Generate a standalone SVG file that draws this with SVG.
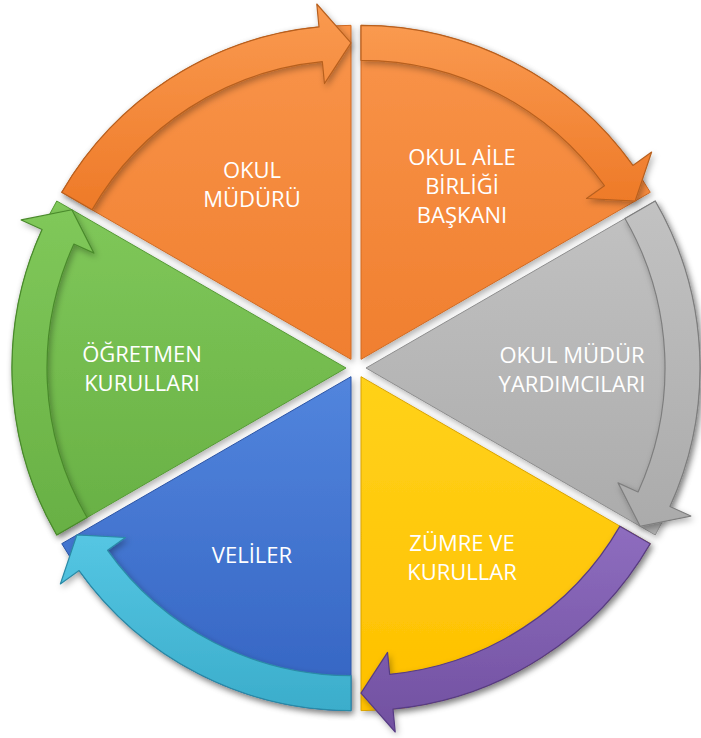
<svg xmlns="http://www.w3.org/2000/svg" width="701" height="738" viewBox="0 0 701 738">
<defs>
  <filter id="sh" x="-10%" y="-10%" width="120%" height="120%">
    <feDropShadow dx="2" dy="3" stdDeviation="3" flood-color="#000" flood-opacity="0.3"/>
  </filter>
  <linearGradient id="gOrange" x1="0" y1="0" x2="0" y2="1">
    <stop offset="0" stop-color="#F9944A"/>
    <stop offset="1" stop-color="#F07F2F"/>
  </linearGradient>
  <linearGradient id="gOrangeB" x1="0" y1="0" x2="0" y2="1">
    <stop offset="0" stop-color="#FA9A50"/>
    <stop offset="1" stop-color="#EE7A28"/>
  </linearGradient>
  <linearGradient id="gGray" x1="0" y1="0" x2="0" y2="1">
    <stop offset="0" stop-color="#C2C2C2"/>
    <stop offset="1" stop-color="#ABABAB"/>
  </linearGradient>
  <linearGradient id="gYellow" x1="0" y1="0" x2="0" y2="1">
    <stop offset="0" stop-color="#FFD21A"/>
    <stop offset="1" stop-color="#FFC000"/>
  </linearGradient>
  <linearGradient id="gPurple" x1="0" y1="0" x2="0" y2="1">
    <stop offset="0" stop-color="#8E6DBF"/>
    <stop offset="1" stop-color="#7150A0"/>
  </linearGradient>
  <linearGradient id="gBlue" x1="0" y1="0" x2="0" y2="1">
    <stop offset="0" stop-color="#5285DD"/>
    <stop offset="1" stop-color="#3464C2"/>
  </linearGradient>
  <linearGradient id="gCyan" x1="0" y1="0" x2="0" y2="1">
    <stop offset="0" stop-color="#55C6E3"/>
    <stop offset="1" stop-color="#3BADCB"/>
  </linearGradient>
  <linearGradient id="gGreen" x1="0" y1="0" x2="0" y2="1">
    <stop offset="0" stop-color="#80C85A"/>
    <stop offset="1" stop-color="#68B044"/>
  </linearGradient>
</defs>
<style>
  .w { filter: url(#sh); stroke-width: 1; }
  .a { filter: url(#sh); stroke-width: 1.2; stroke-linejoin: round; }
  .t { font-family: "Open Sans", "Liberation Sans", sans-serif; font-size: 22px; fill: #FFFFFF; text-anchor: middle; }
</style>

<g id="node-okul-muduru">
  <path class="w" d="M351,359.34 L61.75,192.34 A334,334 0 0 1 351,25.34 Z" fill="url(#gOrange)" stroke="#D06A22"/>
  <text class="t" x="252" y="178">OKUL</text>
  <text class="t" x="252" y="207">MÜDÜRÜ</text>
</g>
<g id="node-okul-aile-birligi">
  <path class="w" d="M361,359.34 L361,25.34 A334,334 0 0 1 650.25,192.34 Z" fill="url(#gOrange)" stroke="#D06A22"/>
  <text class="t" x="462" y="165">OKUL AİLE</text>
  <text class="t" x="462" y="194">BİRLİĞİ</text>
  <text class="t" x="462" y="223">BAŞKANI</text>
</g>
<g id="node-mudur-yardimcilari">
  <path class="w" d="M366,368 L655.25,201 A334,334 0 0 1 655.25,535 Z" fill="url(#gGray)" stroke="#8E8E8E"/>
  <text class="t" x="572" y="363">OKUL MÜDÜR</text>
  <text class="t" x="572" y="392">YARDIMCILARI</text>
</g>
<g id="node-zumre">
  <path class="w" d="M361,376.66 L650.25,543.66 A334,334 0 0 1 361,710.66 Z" fill="url(#gYellow)" stroke="#D9A300"/>
  <text class="t" x="462" y="551">ZÜMRE VE</text>
  <text class="t" x="462" y="580">KURULLAR</text>
</g>
<g id="node-veliler">
  <path class="w" d="M351,376.66 L351,710.66 A334,334 0 0 1 61.75,543.66 Z" fill="url(#gBlue)" stroke="#2A54A6"/>
  <text class="t" x="252" y="563">VELİLER</text>
</g>
<g id="node-ogretmen-kurullari">
  <path class="w" d="M346,368 L56.75,535 A334,334 0 0 1 56.75,201 Z" fill="url(#gGreen)" stroke="#559A35"/>
  <text class="t" x="142" y="362">ÖĞRETMEN</text>
  <text class="t" x="142" y="391">KURULLARI</text>
</g>

<g id="connectors">
  <path class="a" d="M87.06,517.5 L56.75,535 A334,334 0 0 1 42.07,229.49 L21.14,219.95 L71.9,209.75 L93.94,253.13 L73.92,244.01 A299,299 0 0 0 87.06,517.5 Z" fill="url(#gGreen)" stroke="#4A8A2C"/>
  <path class="a" d="M351,675.66 L351,710.66 A334,334 0 0 1 79.09,570.61 L60.36,583.97 L76.9,534.91 L125.49,537.51 L107.58,550.29 A299,299 0 0 0 351,675.66 Z" fill="url(#gCyan)" stroke="#2A8AA6"/>
  <path class="a" d="M619.94,526.16 L650.25,543.66 A334,334 0 0 1 393.01,709.12 L395.22,732.02 L361,693.16 L387.55,652.38 L389.66,674.28 A299,299 0 0 0 619.94,526.16 Z" fill="url(#gPurple)" stroke="#573C84"/>
  <path class="a" d="M624.94,218.5 L655.25,201 A334,334 0 0 1 669.93,506.51 L690.86,516.05 L640.1,526.25 L618.06,482.87 L638.08,491.99 A299,299 0 0 0 624.94,218.5 Z" fill="url(#gGray)" stroke="#7E7E7E"/>
  <path class="a" d="M361,60.34 L361,25.34 A334,334 0 0 1 632.91,165.39 L651.64,152.03 L635.1,201.09 L586.51,198.49 L604.42,185.71 A299,299 0 0 0 361,60.34 Z" fill="url(#gOrangeB)" stroke="#B8601F"/>
  <path class="a" d="M92.06,209.84 L61.75,192.34 A334,334 0 0 1 318.99,26.88 L316.78,3.98 L351,42.84 L324.45,83.62 L322.34,61.72 A299,299 0 0 0 92.06,209.84 Z" fill="url(#gOrangeB)" stroke="#B8601F"/>
</g>
</svg>
